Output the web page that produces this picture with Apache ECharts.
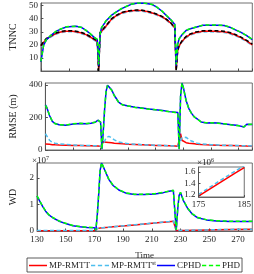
<!DOCTYPE html>
<html><head><meta charset="utf-8">
<script src="https://cdn.jsdelivr.net/npm/echarts@6/dist/echarts.min.js"></script>
<style>html,body{margin:0;padding:0;background:#fff}#c{width:254px;height:274px}</style>
</head><body><div id="c"></div>
<script>
// ---- data ----
const tTNNC = [130,132,134,137,141,144,148,152,155,159,162,165,168,170,171,172,173,176,180,183,187,190,194,198,202,206,209,212,216,219,222,225,226,227,228,230,233,236,240,245,250,255,260,264,268,272,276,280];
const tnncTrue = [19.5,22.5,25,27,29.2,30.2,30.8,30.8,30.4,29.4,28.2,26.4,24.4,23,0,29.5,30.8,34.4,39.8,42.3,44.6,45.6,46.3,46.6,46.5,45.6,44.7,43.6,41.8,39.6,37.1,33.4,0,15.5,19.4,22.9,26.4,28.4,29.9,30.8,30.9,30.7,30.4,29.4,27.9,25.9,23.4,20.5];
const tnncMP = [19,22,24.5,26.5,28.8,29.8,30.4,30.4,30,29,27.8,26,24,22.7,1,29,30.4,34,39.5,42,44.3,45.3,46,46.3,46.2,45.3,44.4,43.3,41.5,39.3,36.8,33,1,15,19,22.5,26,28,29.5,30.4,30.5,30.3,30,29,27.5,25.5,23,20];
const tnncST = [18.5,21.3,24,26,28.3,29.3,30,30,29.6,28.5,27.3,25.5,23.4,22,2,28.4,29.9,33.5,39,41.5,43.8,44.8,45.5,45.8,45.7,44.8,43.9,42.8,41,38.8,36.3,32.4,2,14.5,18.4,22,25.4,27.5,29,29.9,30,29.8,29.5,28.5,27,25,22.4,19.5];
const tnncCPHD = [7,20,24,27,30.5,32,33.7,34,34.2,33.2,31,28.5,25.5,24,4,28,33,38,42.5,44.8,47.5,49,51,51.8,52,51.5,50.8,49,45.7,42.5,39.3,35.5,4,20,24.5,27.5,31,32.3,33.5,35,35,35,34.8,33.5,31.5,29.5,27,24];
const tnncPHD = [7.4,20.3,24.2,27.2,30.6,32.1,33.8,34.1,34.2,33.3,31.1,28.6,25.7,24.2,5,28.2,33.2,38.2,42.6,44.9,47.6,49.1,51.1,51.9,52.1,51.6,50.9,49.1,45.8,42.6,39.4,35.7,5,20.3,24.6,27.6,31.1,32.4,33.6,35.1,35.1,35.1,34.9,33.6,31.6,29.6,27.1,24.2];

const tRMSE = [130,131,133,135,137,140,145,150,155,160,163,166,168,170,171,172,173,174,175,176,178,180,183,186,190,195,200,205,210,215,220,224,226,227,228,229,230,232,234,236,238,240,243,247,250,255,260,265,270,274,276,280];
const rmseMP = [37,36,35,33,32,31,29.5,28,27,26,25.5,25,24,23,20,50,49,48,47,46,44,42,40,38,36,34,32,30,28,27,26,24,23,20,100,60,50,45,42,40,38,36,34,32,31,29,28,27,26,25,24,23];
const rmseST = [100,88,60,46,41,38,34,31,29,28,27,26.5,26,25,20,35,55,75,85,84,75,62,50,44,39,36,33,31,29,28,26.5,25,24,20,55,75,85,78,65,55,48,42,38,35,33,31,29,28,27,26,26,25];
const rmseCPHD = [277,262,212,176,163,155,152,160,163,162,165,170,183,172,5,120,260,360,398,396,370,335,295,278,270,263,258,252,248,243,236,232,230,5,330,412,385,305,255,225,203,192,172,166,168,166,160,155,150,142,158,157];
const rmsePHD = [275,260,214,177,162,156,153,161,164,163,166,171,184,171,6,122,262,362,396,394,368,333,294,277,271,262,257,251,247,242,235,231,229,6,332,412,383,303,253,224,202,191,171,167,167,165,161,154,149,143,157,158];

const tWD = [130,131,132,134,136,138,141,145,150,155,160,165,170,171,172,173,174,175,176,178,180,183,187,192,198,205,212,218,222,225,226,227,228,229,230,232,235,238,242,248,255,265,280];
const wdMP = [0.01,0.01,0.01,0.01,0.01,0.01,0.01,0.01,0.01,0.01,0.01,0.01,0.01,0.01,0.09,0.105,0.112,0.118,0.123,0.133,0.142,0.157,0.175,0.2,0.23,0.265,0.3,0.33,0.35,0.37,0.38,0.015,0.016,0.017,0.018,0.02,0.023,0.026,0.03,0.037,0.045,0.055,0.065];
const wdST = [0.015,0.015,0.015,0.015,0.015,0.015,0.015,0.015,0.015,0.015,0.015,0.015,0.015,0.015,0.1,0.11,0.116,0.121,0.126,0.137,0.146,0.161,0.18,0.205,0.236,0.271,0.306,0.337,0.357,0.377,0.39,0.02,0.021,0.022,0.023,0.025,0.028,0.031,0.035,0.042,0.05,0.06,0.07];
const wdCPHD = [1.32,1.25,1.12,0.92,0.75,0.62,0.5,0.38,0.28,0.2,0.16,0.13,0.12,0.02,0.6,1.4,2.3,2.57,2.5,2.2,1.95,1.72,1.55,1.43,1.38,1.38,1.4,1.45,1.5,1.53,1.55,0.03,0.8,1.35,1.45,1.15,0.85,0.65,0.5,0.42,0.38,0.36,0.36];
const wdPHD = [1.33,1.26,1.13,0.93,0.76,0.63,0.51,0.39,0.29,0.21,0.17,0.14,0.13,0.03,0.62,1.42,2.32,2.58,2.51,2.21,1.96,1.73,1.56,1.44,1.39,1.39,1.41,1.46,1.51,1.54,1.56,0.04,0.82,1.36,1.46,1.16,0.86,0.66,0.51,0.43,0.39,0.37,0.37];

const tInset = [175,177,179,181,183,185];
const insetMP = [1.18,1.28,1.38,1.48,1.58,1.675];
const insetST = [1.21,1.31,1.415,1.515,1.615,1.71];

const legendNames = ['MP-RMTT','MP-RMTT^st','CPHD','PHD'];

// ---- chart ----
const FONT = 'Liberation Serif';
const AX = '#4d4d4d';
const pairs = (t, v) => t.map((x, i) => [x, v[i]]);
const L = 31.7, W = 220.6;
const grids = [
  {left: L, top: 3, width: W, height: 68},
  {left: L, top: 83, width: W, height: 67},
  {left: L, top: 163, width: W, height: 68},
  {left: 198.5, top: 167, width: 52.5, height: 30, z: 10}
].map(g => Object.assign({show: true, borderColor: AX, borderWidth: 0.8, backgroundColor: '#fff'}, g));

function xAx(i, labels) {
  return {type: 'value', gridIndex: i, min: 130, max: 280, interval: 20,
    axisLine: {lineStyle: {color: AX, width: 0.8}}, splitLine: {show: false},
    axisTick: {inside: true, length: 2.5, lineStyle: {color: AX}},
    axisLabel: {show: labels, showMaxLabel: false, color: '#262626', fontFamily: FONT, fontSize: 9, margin: 4},
    name: labels ? 'Time' : '', nameLocation: 'middle', nameGap: 20,
    nameTextStyle: {color: '#262626', fontFamily: FONT, fontSize: 9}};
}
function yAx(i, name, max, interval, gap) {
  return {type: 'value', gridIndex: i, min: 0, max: max, interval: interval,
    axisLine: {show: true, lineStyle: {color: AX, width: 0.8}}, splitLine: {show: false},
    axisTick: {inside: true, length: 2.5, lineStyle: {color: AX}},
    axisLabel: {showMaxLabel: false, showMinLabel: i === 0 ? false : true, color: '#262626', fontFamily: FONT, fontSize: 9, margin: 3},
    name: name, nameLocation: 'middle', nameRotate: 90, nameGap: gap,
    nameTextStyle: {color: '#262626', fontFamily: FONT, fontSize: 10}};
}
const xAxis = [xAx(0, false), xAx(1, false), xAx(2, true),
  {type: 'value', gridIndex: 3, min: 175, max: 185, interval: 10, z: 12,
   axisLine: {lineStyle: {color: AX, width: 0.8}}, splitLine: {show: false},
   axisTick: {inside: true, length: 2, lineStyle: {color: AX}},
   axisLabel: {color: '#262626', fontFamily: FONT, fontSize: 9, margin: 3}}];
const yAxis = [yAx(0, 'TNNC', 52, 10, 19), yAx(1, 'RMSE (m)', 412, 200, 19), yAx(2, 'WD', 2.57, 1, 19),
  {type: 'value', gridIndex: 3, min: 1.165, max: 1.687, z: 12,
   axisLine: {show: true, lineStyle: {color: AX, width: 0.8}}, splitLine: {show: false},
   axisTick: {inside: true, length: 2, customValues: [1.2, 1.4, 1.6], lineStyle: {color: AX}},
   axisLabel: {customValues: [1.2, 1.4, 1.6], formatter: v => v.toFixed(1), color: '#262626', fontFamily: FONT, fontSize: 9, margin: 3}}];

function ln(name, idx, t, v, color, dashed, z) {
  return {type: 'line', name: name, xAxisIndex: idx, yAxisIndex: idx, data: pairs(t, v),
    symbol: 'none', z: z || 2, clip: true, silent: true,
    lineStyle: {color: color, width: 1.5, type: dashed ? [4, 2.5] : 'solid'},
    itemStyle: {color: color}};
}
const C = {mp: '#ff0000', st: '#4dbeee', cphd: '#0000ff', phd: '#00ff00'};
const series = [
  ln('MP-RMTT^st', 0, tTNNC, tnncST, C.st, true),
  ln('MP-RMTT', 0, tTNNC, tnncMP, C.mp, false),
  ln('Truth', 0, tTNNC, tnncTrue, '#000', true),
  ln('CPHD', 0, tTNNC, tnncCPHD, C.cphd, false),
  ln('PHD', 0, tTNNC, tnncPHD, C.phd, true),
  ln('MP-RMTT', 1, tRMSE, rmseMP, C.mp, false),
  ln('MP-RMTT^st', 1, tRMSE, rmseST, C.st, true),
  ln('CPHD', 1, tRMSE, rmseCPHD, C.cphd, false),
  ln('PHD', 1, tRMSE, rmsePHD, C.phd, true),
  ln('MP-RMTT', 2, tWD, wdMP, C.mp, false),
  ln('MP-RMTT^st', 2, tWD, wdST, C.st, true),
  ln('CPHD', 2, tWD, wdCPHD, C.cphd, false),
  ln('PHD', 2, tWD, wdPHD, C.phd, true),
  ln('MP-RMTT^st', 3, tInset, insetST, C.st, true, 11),
  ln('MP-RMTT', 3, tInset, insetMP, C.mp, false, 11)
];

const SOLID = 'path://M0,0H18V1.5H0Z';
const DASH = 'path://M0,0H4V1.5H0Z M6.5,0H10.5V1.5H6.5Z M13,0H17V1.5H13Z';
const chart = echarts.init(document.getElementById('c'), null, {renderer: 'canvas'});
chart.setOption({
  animation: false,
  backgroundColor: '#fff',
  grid: grids, xAxis: xAxis, yAxis: yAxis, series: series,
  legend: {
    data: legendNames.map((n, i) => ({name: n, icon: i % 2 ? DASH : SOLID})),
    left: 27, top: 258, itemWidth: 18, itemHeight: 1.5, itemGap: 1,
    symbolKeepAspect: false,
    itemStyle: {borderWidth: 0},
    padding: [2, 2, 2, 2], borderColor: '#333', borderWidth: 0.8,
    selectedMode: false,
    textStyle: {fontFamily: FONT, fontSize: 9, color: '#262626', padding: [0, 0, 0, -3],
      rich: {sup: {fontFamily: FONT, fontSize: 6, padding: [0, 0, 5, 0], color: '#262626'}}},
    formatter: n => n === 'MP-RMTT^st' ? 'MP-RMTT{sup|st}' : n
  },
  graphic: [
    {type: 'text', left: 32, top: 155, style: {text: '×10{s|7}', font: '9px "Liberation Serif"', fill: '#262626',
      rich: {s: {fontSize: 6, fontFamily: FONT, padding: [0, 0, 5, 0]}}}},
    {type: 'text', left: 197, top: 157, z: 20, style: {text: '×10{s|6}', font: '9px "Liberation Serif"', fill: '#262626',
      rich: {s: {fontSize: 6, fontFamily: FONT, padding: [0, 0, 5, 0]}}}}
  ]
});
</script></body></html>
